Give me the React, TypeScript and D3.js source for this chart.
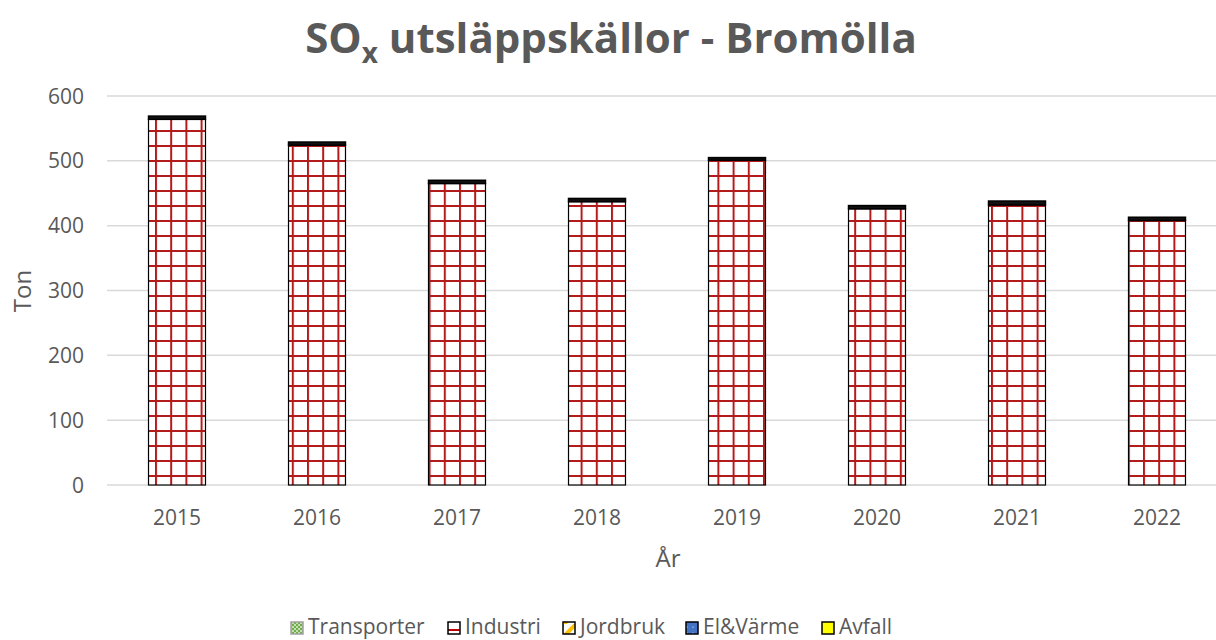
import React from 'react';
import * as d3 from 'd3';

const years = ['2015', '2016', '2017', '2018', '2019', '2020', '2021', '2022'];
const industri = [564, 524, 465, 437, 501, 426, 432, 408];
const transporter = [5, 5, 5, 5, 4, 5, 6, 5];
const jordbruk = [0, 0, 0, 0, 0, 0, 0, 0];
const elvarme = [0, 0, 0, 0, 0, 0, 0, 0];
const avfall = [0, 0, 0, 0, 0, 0, 0, 0];
const yTicks = [0, 100, 200, 300, 400, 500, 600];

const seriesNames = ['Industri', 'Transporter', 'Jordbruk', 'El&Värme', 'Avfall'];
const seriesValues = [industri, transporter, jordbruk, elvarme, avfall];

const W = 1216;
const H = 640;
const margin = { top: 96, left: 107, bottom: 155 };
const font = "'Open Sans', 'DejaVu Sans', sans-serif";
const textColor = '#595959';

const fills: Record<string, string> = {
  Industri: 'url(#industri)',
  Transporter: 'url(#transporter)',
  Jordbruk: 'url(#jordbruk)',
  'El&Värme': 'url(#elvarme)',
  Avfall: '#ffff00',
};

const legendItems = [
  { name: 'Transporter', x: 291 },
  { name: 'Industri', x: 448 },
  { name: 'Jordbruk', x: 563 },
  { name: 'El&Värme', x: 686 },
  { name: 'Avfall', x: 822 },
];

export default function App() {
  const x = d3.scaleBand<string>()
    .domain(years)
    .range([margin.left, margin.left + 140 * years.length])
    .paddingInner(0.593)
    .paddingOuter(0.2965);

  const y = d3.scaleLinear().domain([0, 600]).range([H - margin.bottom, margin.top]);

  const table = years.map((yr, i) => {
    const row: Record<string, number | string> = { year: yr };
    seriesNames.forEach((s, k) => { row[s] = seriesValues[k][i]; });
    return row;
  });
  const stacked = d3.stack<Record<string, number | string>>().keys(seriesNames)(table as any);

  return (
    <svg width={W} height={H} style={{ position: 'absolute', left: 0, top: 0, background: '#fff' }}>
      <defs>
        <pattern id="industri" patternUnits="userSpaceOnUse" width={15.2} height={15} x={155} y={130}>
          <rect width={15.2} height={15} fill="#fff" />
          <line x1={1} x2={1} y1={0} y2={15} stroke="#b31b1b" strokeWidth={2} />
          <line x1={0} x2={15.2} y1={1} y2={1} stroke="#b31b1b" strokeWidth={2} />
        </pattern>
        <pattern id="transporter" patternUnits="userSpaceOnUse" width={4} height={4}>
          <rect width={4} height={4} fill="#c5e0b4" />
          <rect width={2} height={2} fill="#70ad47" />
          <rect x={2} y={2} width={2} height={2} fill="#70ad47" />
        </pattern>
        <pattern id="jordbruk" patternUnits="userSpaceOnUse" width={12} height={12}>
          <rect width={12} height={12} fill="#fff" />
          <path d="M0,12 L12,0" stroke="#ffc000" strokeWidth={4} />
        </pattern>
        <pattern id="elvarme" patternUnits="userSpaceOnUse" width={6} height={6}>
          <rect width={6} height={6} fill="#4472c4" />
          <circle cx={3} cy={3} r={0.6} fill="#fff" />
        </pattern>
        <pattern id="legIndustri" patternUnits="userSpaceOnUse" width={12} height={12}>
          <rect width={12} height={12} fill="#fff" />
          <line x1={0} x2={12} y1={6} y2={6} stroke="#c00000" strokeWidth={2} />
        </pattern>
      </defs>

      <text x={611} y={53} textAnchor="middle" fontFamily={font} fontWeight="bold" fontSize={42} fill={textColor}>
        SO<tspan fontSize={28} dy={10}>x</tspan><tspan dy={-10}> utsläppskällor - Bromölla</tspan>
      </text>

      {yTicks.map(t => (
        <g key={t}>
          <line x1={margin.left} x2={W} y1={y(t)} y2={y(t)} stroke="#d9d9d9" strokeWidth={1.5} />
          <text x={84} y={y(t)} dy="0.36em" textAnchor="end" fontFamily={font} fontSize={21} fill={textColor}>{t}</text>
        </g>
      ))}

      {stacked.map(layer => (
        <g key={layer.key}>
          {layer.map((d, i) => {
            const h = y(d[0]) - y(d[1]);
            if (h <= 0) return null;
            const isInd = layer.key === 'Industri';
            return (
              <rect key={i} x={x(years[i])} y={y(d[1])} width={x.bandwidth()} height={h}
                fill={isInd ? fills[layer.key] : '#111'} stroke="#000" strokeWidth={isInd ? 1.2 : 1.5} />
            );
          })}
        </g>
      ))}

      {years.map(yr => (
        <text key={yr} x={(x(yr) || 0) + x.bandwidth() / 2} y={525} textAnchor="middle"
          fontFamily={font} fontSize={21} fill={textColor}>{yr}</text>
      ))}

      <text x={668} y={567} textAnchor="middle" fontFamily={font} fontSize={24} fill={textColor}>År</text>
      <text transform="translate(31,291) rotate(-90)" textAnchor="middle" fontFamily={font} fontSize={24} fill={textColor}>Ton</text>

      {legendItems.map(it => (
        <g key={it.name}>
          <rect x={it.x} y={622} width={12} height={12}
            fill={it.name === 'Industri' ? 'url(#legIndustri)' : fills[it.name]}
            stroke={it.name === 'Transporter' ? '#a0a0a0' : '#000'} strokeWidth={1.5} />
          <text x={it.x + 17} y={634} fontFamily={font} fontSize={21} fill={textColor}>{it.name}</text>
        </g>
      ))}
    </svg>
  );
}
